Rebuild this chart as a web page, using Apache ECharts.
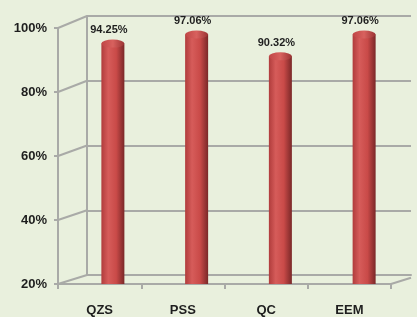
<!DOCTYPE html>
<html><head><meta charset="utf-8">
<script src="https://cdn.jsdelivr.net/npm/echarts@6/dist/echarts.min.js"></script>
<style>html,body{margin:0;padding:0;background:#e9f0dd;}#c{width:417px;height:317px;}</style>
</head><body><div id="c"></div>
<script>
const categories = ['QZS', 'PSS', 'QC', 'EEM'];
const values = [94.25, 97.06, 90.32, 97.06];
const yTicks = [20, 40, 60, 80, 100];

const FONT = '"Liberation Sans Narrow","Liberation Sans",sans-serif';
const GRAY = '#a9aaa7';
const BACK = {left: 87, right: 6, top: 16, bottom: 42};
const FRONT = {left: 58, right: 26, top: 28, bottom: 27};
const BARS = {left: 71, right: 11, top: 25, bottom: 33};

const chart = echarts.init(document.getElementById('c'));
const barColor = new echarts.graphic.LinearGradient(0, 0, 1, 0, [
  {offset: 0, color: '#b03c3c'},
  {offset: 0.3, color: '#d65c5a'},
  {offset: 0.65, color: '#c94a48'},
  {offset: 1, color: '#7a2828'}
]);
const topColor = new echarts.graphic.LinearGradient(0, 0, 1, 0, [
  {offset: 0, color: '#c04646'},
  {offset: 0.5, color: '#d8615e'},
  {offset: 1, color: '#9a3333'}
]);

chart.setOption({
  backgroundColor: '#e9f0dd',
  animation: false,
  grid: [
    Object.assign({}, BACK),
    Object.assign({}, FRONT),
    Object.assign({}, BARS)
  ],
  xAxis: [
    {gridIndex: 0, type: 'category', data: categories, axisLabel: {show: false}, axisTick: {show: false},
     axisLine: {show: true, lineStyle: {color: GRAY, width: 2}}},
    {gridIndex: 1, type: 'category', data: categories,
     axisLine: {show: true, lineStyle: {color: GRAY, width: 2}},
     axisTick: {show: true, length: 5, lineStyle: {color: GRAY, width: 2}},
     axisLabel: {color: '#1e1e1e', fontFamily: FONT, fontWeight: 'bold', fontSize: 13, margin: 20}},
    {gridIndex: 2, type: 'category', data: categories, show: false}
  ],
  yAxis: [
    {gridIndex: 0, type: 'value', min: 20, max: 100, interval: 20, axisLabel: {show: false},
     axisLine: {show: true, lineStyle: {color: GRAY, width: 2}}, axisTick: {show: false},
     splitLine: {show: true, lineStyle: {color: GRAY, width: 2}}},
    {gridIndex: 1, type: 'value', min: 20, max: 100, interval: 20,
     axisLine: {show: true, lineStyle: {color: GRAY, width: 2}},
     axisTick: {show: true, length: 4, lineStyle: {color: GRAY, width: 2}},
     splitLine: {show: false},
     axisLabel: {formatter: '{value}%', color: '#1e1e1e', fontFamily: FONT, fontWeight: 'bold', fontSize: 13, margin: 11}},
    {gridIndex: 2, type: 'value', min: 20, max: 100, interval: 20, show: false, splitLine: {show: false}}
  ],
  series: [
    {type: 'bar', xAxisIndex: 2, yAxisIndex: 2, data: values, barWidth: 23, z: 3,
     itemStyle: {color: barColor},
     label: {show: true, position: 'top', distance: 8, offset: [-4, 0], color: '#1e1e1e',
             fontFamily: FONT, fontWeight: 'bold', fontSize: 11,
             formatter: p => p.value.toFixed(2) + '%'}},
    {type: 'pictorialBar', xAxisIndex: 2, yAxisIndex: 2, data: values, symbol: 'circle',
     symbolSize: [23, 8], symbolPosition: 'end', symbolOffset: [0, '-50%'], z: 4,
     itemStyle: {color: topColor}},
    {type: 'pictorialBar', xAxisIndex: 2, yAxisIndex: 2, data: values, symbol: 'circle',
     symbolSize: [23, 8], symbolPosition: 'start', symbolOffset: [0, '50%'], z: 2,
     itemStyle: {color: barColor}}
  ]
});

// 3D connector lines between front axis and back wall
const W = 417;
const els = [];
yTicks.forEach(v => {
  const yf = chart.convertToPixel({yAxisIndex: 1}, v);
  const yb = chart.convertToPixel({yAxisIndex: 0}, v);
  els.push({type: 'line', shape: {x1: FRONT.left, y1: yf, x2: BACK.left, y2: yb},
            style: {stroke: GRAY, lineWidth: 2}, z: 1});
});
const yf0 = chart.convertToPixel({yAxisIndex: 1}, 20);
const yb0 = chart.convertToPixel({yAxisIndex: 0}, 20);
const slope = (yf0 - yb0) / (BACK.left - FRONT.left);
els.push({type: 'line', shape: {x1: W - FRONT.right, y1: yf0, x2: W - BACK.right, y2: yf0 - slope * (FRONT.right - BACK.right)},
          style: {stroke: GRAY, lineWidth: 2}, z: 1});
chart.setOption({graphic: els});
</script>
</body></html>
